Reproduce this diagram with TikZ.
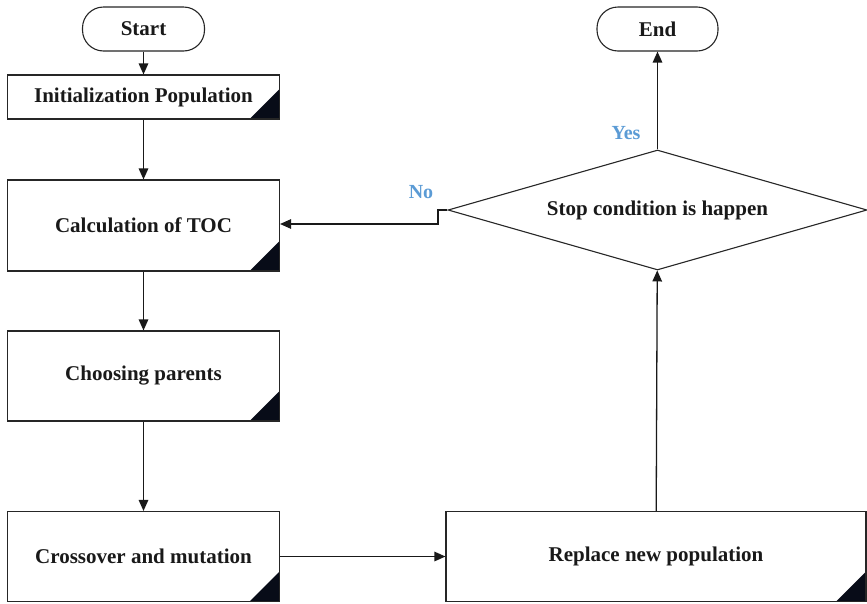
\documentclass[tikz,border=0pt]{standalone}
\usepackage{fontspec}
\setmainfont{Liberation Serif}
\usetikzlibrary{arrows.meta,shapes.geometric}
\definecolor{labelblue}{RGB}{91,155,213}
\definecolor{cornerfill}{RGB}{8,12,24}
\begin{document}
\begin{tikzpicture}[x=1pt,y=-1pt,
  every node/.style={font=\fontsize{21}{25}\selectfont\bfseries, text=black!90},
  flowline/.style={line width=1.3pt, draw=black!90},
  flowarrow/.style={flowline, -{Triangle[length=11pt,width=9.5pt]}},
  terminal/.style={draw=black!85, line width=1.1pt, rounded corners=21pt, fill=white, inner sep=0pt},
  process/.style={draw=black!85, line width=1.1pt, fill=white, inner sep=0pt,
    path picture={\fill[cornerfill] (path picture bounding box.south east) -- ++(-30pt,0pt) -- ++(30pt,30pt) -- cycle;}},
  decision/.style={diamond, aspect=3.5, draw=black!85, line width=1.1pt, fill=white, inner sep=0pt},
  branchlabel/.style={font=\fontsize{20}{23}\selectfont\bfseries, text=labelblue}
]
\useasboundingbox (0,0) rectangle (867,603);

% terminals
\node[terminal, minimum width=122pt, minimum height=44pt] (start) at (143.5,29) {Start};
\node[terminal, minimum width=121pt, minimum height=44pt] (end) at (657.5,29) {End};

% process boxes
\node[process, minimum width=272pt, minimum height=44pt] (init) at (143.5,97) {Initialization Population};
\node[process, minimum width=272pt, minimum height=91pt] (calc) at (143.5,225.5) {Calculation of TOC};
\node[process, minimum width=272pt, minimum height=90pt] (choose) at (143.5,376) {Choosing parents};
\node[process, minimum width=272pt, minimum height=90pt] (cross) at (143.5,556.5) {Crossover and mutation};
\node[process, minimum width=420pt, minimum height=90pt] (replace) at (656,556.5) {Replace new population};

% decision
\node[decision, minimum width=419pt, minimum height=120pt] (stop) at (657.5,210) {Stop condition is happen};

% branch labels
\node[branchlabel] (yes) at (626,133) {Yes};
\node[branchlabel] (no) at (421,192) {No};

% connectors
\draw[flowarrow] (start) -- (init);
\draw[flowarrow] (init) -- (calc);
\draw[flowarrow] (calc) -- (choose);
\draw[flowarrow] (choose) -- (cross);
\draw[flowarrow] (cross) -- (replace);
\draw[flowarrow] (replace) -- (stop);
\draw[flowarrow] (stop) -- (end);
\coordinate (nostep) at (438,224);
\draw[flowarrow] (stop.west) -| (nostep) -- (calc.east |- nostep);
\end{tikzpicture}
\end{document}
